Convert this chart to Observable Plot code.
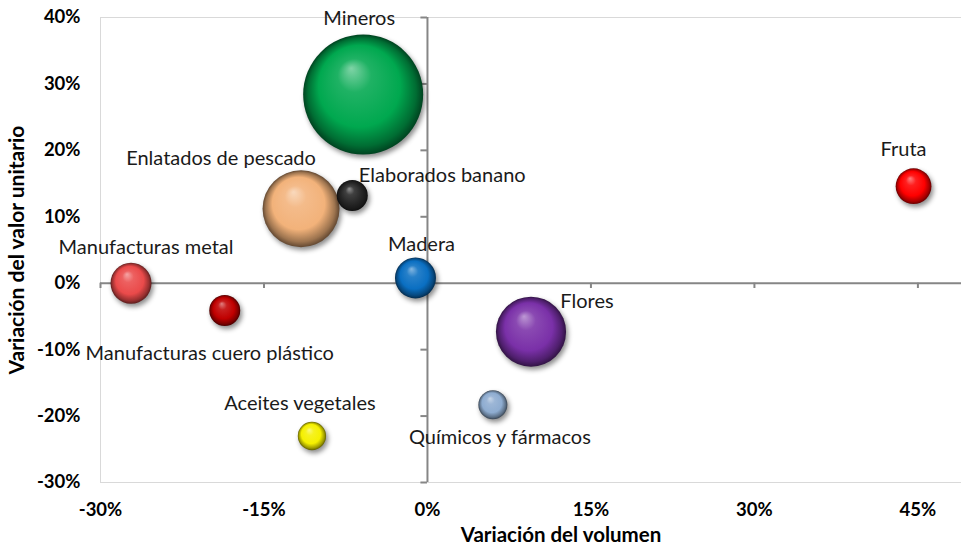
<!DOCTYPE html>
<html>
<head>
<meta charset="utf-8">
<script src="https://cdn.jsdelivr.net/npm/d3@7"></script>
<script src="https://cdn.jsdelivr.net/npm/@observablehq/plot@0.6"></script>
<style>
  html, body { margin: 0; padding: 0; background: #fff; }
  .bubble circle { filter: drop-shadow(2px 3px 2.5px rgba(0,0,0,0.45)); }
</style>
</head>
<body>
<div id="chart"></div>
<script>
// ---- Data ----
const categories = [
  "Mineros", "Enlatados de pescado", "Elaborados banano", "Fruta", "Madera",
  "Manufacturas metal", "Manufacturas cuero plástico", "Flores",
  "Químicos y fármacos", "Aceites vegetales"
];
const volumeChange    = [-5.9, -11.6, -6.9, 44.6, -1.1, -27.2, -18.6,  9.5,   6.0, -10.6]; // %
const unitValueChange = [28.4,  11.2, 13.2, 14.6,  0.8,   0.0,  -4.1, -7.3, -18.3, -23.0]; // %
const bubbleSize      = [36.0,  14.8,  2.4,  3.2,  4.2,   4.2,   2.4, 12.3,   2.1,   2.0];
const colors = ["#00a84f", "#f2b27a", "#262626", "#ff0000", "#0a6fc2",
                "#ea4a4a", "#c00000", "#7a30a8", "#8eacd0", "#f5f000"];
const xTicks = [-30, -15, 0, 15, 30, 45];
const yTicks = [-30, -20, -10, 0, 10, 20, 30, 40];

const data = categories.map((name, i) => ({
  name, x: volumeChange[i], y: unitValueChange[i], size: bubbleSize[i], grad: `url(#sphere-${i})`
}));

// label placement (pixel offsets from bubble centre)
const labelOffsets = {
  "Mineros": [-4, -76],
  "Enlatados de pescado": [-80, -50],
  "Elaborados banano": [90, -20],
  "Fruta": [-10, -37],
  "Madera": [6, -33],
  "Manufacturas metal": [15, -36],
  "Manufacturas cuero plástico": [-15, 43],
  "Flores": [56, -30],
  "Químicos y fármacos": [7, 33],
  "Aceites vegetales": [-12, -32]
};

const pct = d => d + "%";
const FONT = "Lato, 'Open Sans', sans-serif";

const chart = Plot.plot({
  width: 961,
  height: 548,
  marginLeft: 100,
  marginRight: 0,
  marginTop: 17,
  marginBottom: 66,
  style: { fontFamily: FONT, fontSize: "16px", color: "#000", background: "#fff", overflow: "visible" },
  x: { domain: [-30, 49], label: null },
  y: { domain: [-30, 40], label: null },
  r: { domain: [0, d3.max(bubbleSize)], range: [0, 60] },
  color: { type: "identity" },
  marks: [
    // plot-area border (light grey)
    Plot.ruleY([-30, 40], { stroke: "#d9d9d9", strokeWidth: 1 }),
    Plot.ruleX([-30], { stroke: "#d9d9d9", strokeWidth: 1 }),
    // axes at zero
    Plot.ruleY([0], { stroke: "#868686", strokeWidth: 2 }),
    Plot.ruleX([0], { stroke: "#868686", strokeWidth: 2 }),
    Plot.ruleX(xTicks, { x: d => d, y1: 0, y2: -0.8, stroke: "#868686", strokeWidth: 2 }),
    Plot.ruleY(yTicks, { y: d => d, x1: -0.6, x2: 0, stroke: "#868686", strokeWidth: 2 }),
    // tick labels
    Plot.axisX(xTicks, { tickSize: 0, tickPadding: 20, tickFormat: pct, fontWeight: "bold", fontSize: 18.5, label: null }),
    Plot.axisY(yTicks, { tickSize: 0, tickPadding: 20, tickFormat: pct, fontWeight: "bold", fontSize: 18.5, label: null }),
    // axis titles
    Plot.text(["Variación del volumen"], { frameAnchor: "bottom", textAnchor: "middle", lineAnchor: "middle", dx: 30, dy: 53, fontWeight: "bold", fontSize: 20.5 }),
    Plot.text(["Variación del valor unitario"], { frameAnchor: "left", textAnchor: "middle", lineAnchor: "middle", dx: -83, rotate: -90, fontWeight: "bold", fontSize: 21 }),
    // bubbles
    Plot.dot(data, { x: "x", y: "y", r: "size", fill: "grad", stroke: "none", className: "bubble" }),
    // data labels
    ...categories.map(name => Plot.text(data.filter(d => d.name === name), {
      x: "x", y: "y", text: "name",
      dx: labelOffsets[name][0], dy: labelOffsets[name][1],
      fontSize: 20, fill: "#1a1a1a"
    }))
  ]
});

// sphere gradients
const svg = d3.select(chart);
const defs = svg.insert("defs", ":first-child");
colors.forEach((c, i) => {
  const base = d3.rgb(c);
  const light = d3.interpolateRgb(c, "#ffffff");
  const dark = d3.interpolateRgb(c, "#000000");
  const g = defs.append("radialGradient")
    .attr("id", `sphere-${i}`)
    .attr("cx", "0.5").attr("cy", "0.5").attr("r", "0.5")
    .attr("fx", "0.4").attr("fy", "0.28");
  g.append("stop").attr("offset", "0%").attr("stop-color", light(0.5));
  g.append("stop").attr("offset", "28%").attr("stop-color", light(0.12));
  g.append("stop").attr("offset", "68%").attr("stop-color", base.formatHex());
  g.append("stop").attr("offset", "90%").attr("stop-color", dark(0.35));
  g.append("stop").attr("offset", "100%").attr("stop-color", dark(0.6));
});

document.getElementById("chart").appendChild(chart);
</script>
</body>
</html>
